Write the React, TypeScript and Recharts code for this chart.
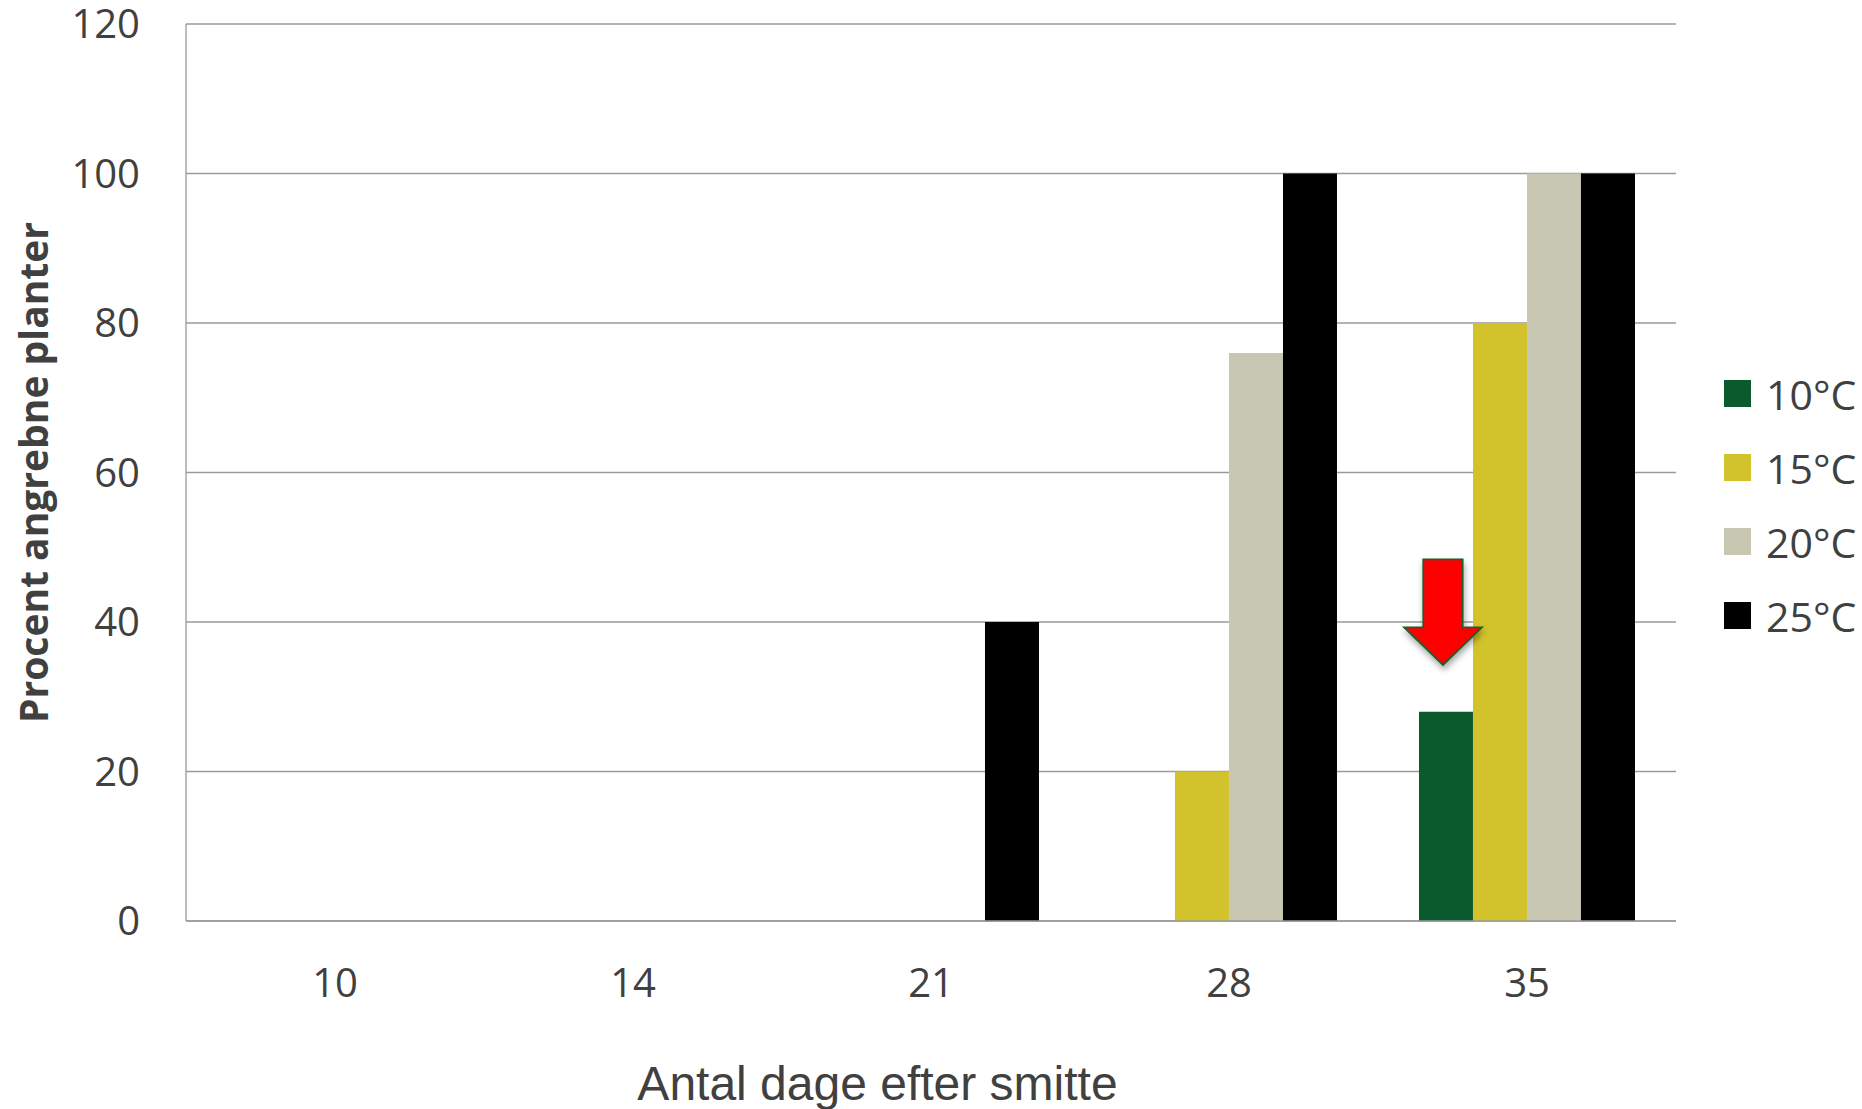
import React from 'react';
import { BarChart, Bar, XAxis, YAxis, CartesianGrid, Legend } from 'recharts';

const days = ['10', '14', '21', '28', '35'];
const t10 = [0, 0, 0, 0, 28];
const t15 = [0, 0, 0, 20, 80];
const t20 = [0, 0, 0, 76, 100];
const t25 = [0, 0, 40, 100, 100];
const yTicks = [0, 20, 40, 60, 80, 100, 120];
const seriesKeys = ['t10', 't15', 't20', 't25'];
const seriesNames = ['10°C', '15°C', '20°C', '25°C'];
const seriesColors = ['#0B5A2E', '#D2C32C', '#C8C8B2', '#000000'];
const annotatedDay = '35';

const data = days.map((d, i) => ({ day: d, t10: t10[i], t15: t15[i], t20: t20[i], t25: t25[i] }));

const TEXT = '#404040';
const GRID = '#9a9a9a';
const FONT = '"Open Sans", sans-serif';

// Last series' shape: draws its own bar, and (on the annotated day) the red arrow
// pointing at the 10°C bar of the same group, so the arrow sits on top of all bars.
const LastBarWithArrow = (props: any) => {
  const { x, y, width, height, fill, payload } = props;
  const showArrow = payload && payload.day === annotatedDay && payload.t25 > 0;
  let arrow = null;
  if (showArrow) {
    const pxPerUnit = height / payload.t25;
    const baseY = y + height;
    const targetTop = baseY - payload.t10 * pxPerUnit;
    const targetX = x - 3 * width; // 10°C bar is three slots to the left
    const cx = targetX + width / 2 - 3;
    const tip = targetTop - 46.7;
    const headTop = tip - 37.7;
    const shaftTop = tip - 105.7;
    const hw = 38.9;
    const sw = 19.7;
    arrow = (
      <g>
        <defs>
          <filter id="arrowShadow" x="-50%" y="-50%" width="200%" height="200%">
            <feDropShadow dx="1" dy="4" stdDeviation="3" floodColor="#000" floodOpacity="0.35" />
          </filter>
        </defs>
        <path
          d={`M ${cx - sw} ${shaftTop} L ${cx + sw} ${shaftTop} L ${cx + sw} ${headTop} L ${cx + hw} ${headTop} L ${cx} ${tip} L ${cx - hw} ${headTop} L ${cx - sw} ${headTop} Z`}
          fill="#FF0000"
          stroke="#1E5E2E"
          strokeWidth={1.8}
          filter="url(#arrowShadow)"
        />
      </g>
    );
  }
  return (
    <g>
      {height > 0 && <rect x={x} y={y} width={width} height={height} fill={fill} />}
      {arrow}
    </g>
  );
};

const renderLegend = (props: any) => {
  const { payload } = props;
  return (
    <div style={{ display: 'flex', flexDirection: 'column' }}>
      {(payload || []).map((entry: any, i: number) => (
        <div key={i} style={{ height: 74, display: 'flex', alignItems: 'center' }}>
          <div style={{ width: 27, height: 27, background: entry.color, marginRight: 15 }} />
          <span style={{ fontFamily: FONT, fontSize: 41, color: TEXT, lineHeight: '74px' }}>{entry.value}</span>
        </div>
      ))}
    </div>
  );
};

const XTitle = (props: any) => {
  const { viewBox } = props;
  return (
    <text
      x={viewBox.x + viewBox.width / 2 - 53.5}
      y={viewBox.y + 179}
      textAnchor="middle"
      fill={TEXT}
      fontFamily='"Liberation Sans", Arial, sans-serif'
      fontSize={48}
    >
      Antal dage efter smitte
    </text>
  );
};

const YTitle = (props: any) => {
  const { viewBox } = props;
  const x = 48;
  const y = viewBox.y + viewBox.height / 2;
  return (
    <text
      x={x}
      y={y}
      transform={`rotate(-90, ${x}, ${y})`}
      textAnchor="middle"
      fill={TEXT}
      fontFamily={FONT}
      fontWeight="bold"
      fontSize={39}
    >
      Procent angrebne planter
    </text>
  );
};

export default function App() {
  return (
    <div style={{ position: 'absolute', left: 0, top: 0, width: 1862, height: 1109, background: '#fff' }}>
      <BarChart
        width={1862}
        height={1109}
        data={data}
        margin={{ top: 24, right: 48, left: 0, bottom: 0 }}
        barCategoryGap="13.75%"
        barGap={0}
      >
        <CartesianGrid vertical={false} stroke={GRID} strokeWidth={1.3} />
        <XAxis
          dataKey="day"
          height={188}
          axisLine={{ stroke: GRID, strokeWidth: 1.5 }}
          tickLine={false}
          tickSize={0}
          tickMargin={48}
          tick={{ fill: TEXT, fontSize: 40, fontFamily: FONT }}
          label={<XTitle />}
        />
        <YAxis
          width={186}
          domain={[0, 120]}
          ticks={yTicks}
          axisLine={{ stroke: GRID, strokeWidth: 1.3 }}
          tickLine={false}
          tickSize={0}
          tickMargin={46}
          tick={{ fill: TEXT, fontSize: 40, fontFamily: FONT }}
          label={<YTitle />}
        />
        <Legend
          layout="vertical"
          align="right"
          verticalAlign="middle"
          width={138}
          wrapperStyle={{ left: 1724, top: 356.5, right: 'auto' }}
          content={renderLegend}
        />
        {seriesKeys.map((k, i) => (
          <Bar
            key={k}
            dataKey={k}
            name={seriesNames[i]}
            fill={seriesColors[i]}
            isAnimationActive={false}
            shape={i === seriesKeys.length - 1 ? <LastBarWithArrow /> : undefined}
          />
        ))}
      </BarChart>
    </div>
  );
}
